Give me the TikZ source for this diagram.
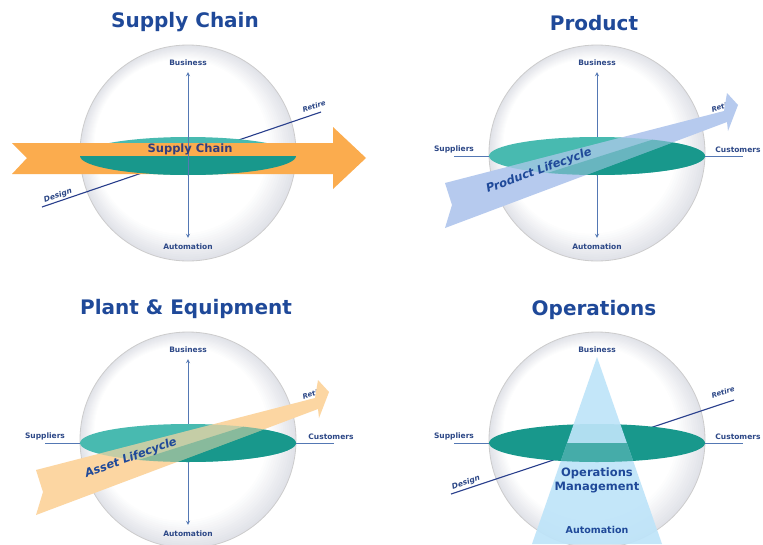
\documentclass[tikz,border=0pt]{standalone}
\usepackage{fontspec}
\setmainfont{DejaVu Sans}
\usetikzlibrary{positioning}

\definecolor{titleblue}{RGB}{31,73,153}
\definecolor{labelblue}{RGB}{45,72,135}
\definecolor{axisblue}{RGB}{84,120,180}
\definecolor{lineblue}{RGB}{40,62,140}
\definecolor{tealdark}{RGB}{24,152,140}
\definecolor{teallight}{RGB}{72,186,176}
\definecolor{chainorange}{RGB}{251,172,78}
\definecolor{assetpeach}{RGB}{252,214,162}
\definecolor{productblue}{RGB}{182,202,238}
\definecolor{opsblue}{RGB}{190,228,249}
\definecolor{arrowtext}{RGB}{50,62,125}
\definecolor{spheregrey}{RGB}{186,190,204}

\newcommand{\lifecyclearrow}{(-152,30) -- (127,-42) -- (130,-60) -- (141,-48) -- (131,-22) -- (130,-31) -- (-152,75) -- (-145,52) -- cycle}
\newcommand{\lowerhalf}{(-160,55) -- (160,-46.5) -- (160,60) -- (-160,60) -- cycle}
\newcommand{\disk}{(0,3) ellipse [x radius=108, y radius=19]}
\newcommand{\glassball}{%
    \foreach \k in {0,...,16} {
        \pgfmathsetmacro\rr{108-1.6*\k}
        \pgfmathsetmacro\cc{max(0,44-3.4*\k)}
        \fill[spheregrey!\cc!white] (-.5*\k,-.5*\k) circle (\rr);
    }
    \draw[sphererim] (0,0) circle (108);}

\begin{document}
\begin{tikzpicture}[x=1pt, y=-1pt,
        paneltitle/.style={font=\bfseries\fontsize{20}{24}\selectfont, text=titleblue},
        axislbl/.style={font=\bfseries\fontsize{7.5}{9}\selectfont, text=labelblue, inner sep=1pt},
        phaselbl/.style={font=\bfseries\itshape\fontsize{7.5}{9}\selectfont, text=labelblue, inner sep=1pt},
        arrowlbl/.style={font=\bfseries\fontsize{11.5}{14}\selectfont, text=arrowtext},
        updown/.style={draw=axisblue, line width=.8pt, <->, >=stealth, shorten >=5pt, shorten <=5pt},
        crossline/.style={draw=axisblue, line width=.8pt},
        lifeline/.style={draw=lineblue, line width=1.1pt},
        sphererim/.style={draw=black!20, line width=.8pt}]

    \useasboundingbox (0,0) rectangle (763,544);
    \fill[white] (0,0) rectangle (763,544);

    \node[paneltitle] (t1) at (185,22) {Supply Chain};
    \node[paneltitle] (t2) at (594,23) {Product};
    \node[paneltitle] (t3) at (186,309) {Plant \& Equipment};
    \node[paneltitle] (t4) at (594,310) {Operations};

    \begin{scope}[shift={(188,153)}]
        \glassball

        \coordinate (des1end) at (-146,54);
        \coordinate (ret1end) at (133,-41);
        \draw[lifeline] (des1end) -- (ret1end);
        \node[phaselbl, rotate=19] (des1) at (-130,43) {Design};
        \node[phaselbl, rotate=19, font=\bfseries\itshape\fontsize{7}{8}\selectfont] (ret1) at (126,-47) {Retire};

        \fill[teallight] \disk;
        \fill[chainorange] (-176,-10) -- (145,-10) -- (145,-26) -- (178,5) -- (145,36) -- (145,21) -- (-176,21) -- (-161,5) -- cycle;
        \begin{scope}
            \clip (-110,3) rectangle (110,25);
            \fill[tealdark] \disk;
        \end{scope}

        \node[axislbl] (bus1) at (0,-90) {Business};
        \node[axislbl] (aut1) at (0,94) {Automation};
        \draw[updown] (bus1) -- (aut1);

        \node[arrowlbl] (sc1) at (2,-4) {Supply Chain};
    \end{scope}

    \begin{scope}[shift={(597,153)}]
        \glassball

        \coordinate (sl2) at (-143,3);
        \coordinate (cl2) at (146,3);
        \draw[crossline] (sl2) -- (cl2);
        \node[axislbl, above=2pt of sl2] (sup2) {Suppliers};
        \node[axislbl, anchor=south] (cus2) at (141,1) {Customers};

        \node[axislbl] (bus2) at (0,-90) {Business};
        \node[axislbl] (aut2) at (0,94) {Automation};
        \draw[updown] (bus2) -- (aut2);
        \node[phaselbl, rotate=19, font=\bfseries\itshape\fontsize{7}{8}\selectfont] (ret2) at (126,-47) {Retire};

        \fill[teallight] \disk;
        \begin{scope}
            \clip \lowerhalf;
            \fill[tealdark] \disk;
        \end{scope}
        \fill[productblue] \lifecyclearrow;
        \begin{scope}
            \clip \lifecyclearrow;
            \fill[teallight, opacity=.3] \disk;
            \clip \lowerhalf;
            \fill[tealdark, opacity=.35] \disk;
        \end{scope}

        \node[arrowlbl, rotate=20, font=\bfseries\itshape\fontsize{11.5}{14}\selectfont, text=titleblue] (pl2) at (-58,18) {Product Lifecycle};
    \end{scope}

    \begin{scope}[shift={(188,440)}]
        \glassball

        \coordinate (sl3) at (-143,3);
        \coordinate (cl3) at (146,3);
        \draw[crossline] (sl3) -- (cl3);
        \node[axislbl, above=2pt of sl3] (sup3) {Suppliers};
        \node[axislbl, anchor=south] (cus3) at (143,1) {Customers};

        \node[axislbl] (bus3) at (0,-90) {Business};
        \node[axislbl] (aut3) at (0,94) {Automation};
        \draw[updown] (bus3) -- (aut3);
        \node[phaselbl, rotate=19, font=\bfseries\itshape\fontsize{7}{8}\selectfont] (ret3) at (126,-47) {Retire};

        \fill[teallight] \disk;
        \begin{scope}
            \clip \lowerhalf;
            \fill[tealdark] \disk;
        \end{scope}
        \fill[assetpeach] \lifecyclearrow;
        \begin{scope}
            \clip \lifecyclearrow;
            \fill[teallight, opacity=.3] \disk;
            \clip \lowerhalf;
            \fill[tealdark, opacity=.35] \disk;
        \end{scope}

        \node[arrowlbl, rotate=20, font=\bfseries\itshape\fontsize{11.5}{14}\selectfont, text=titleblue] (al3) at (-57,18) {Asset Lifecycle};
    \end{scope}

    \begin{scope}[shift={(597,440)}]
        \glassball

        \coordinate (sl4) at (-143,3);
        \coordinate (cl4) at (146,3);
        \draw[crossline] (sl4) -- (cl4);
        \node[axislbl, above=2pt of sl4] (sup4) {Suppliers};
        \node[axislbl, anchor=south] (cus4) at (141,1) {Customers};

        \coordinate (des4end) at (-146,54);
        \coordinate (ret4end) at (137,-40);
        \draw[lifeline] (des4end) -- (ret4end);
        \node[phaselbl, rotate=19] (des4) at (-131,43) {Design};
        \node[phaselbl, rotate=19, font=\bfseries\itshape\fontsize{7}{8}\selectfont] (ret4) at (126,-48) {Retire};

        \fill[tealdark] \disk;
        \fill[opsblue, opacity=.92] (0,-83) -- (65,104) -- (-65,104) -- cycle;
        \begin{scope}
            \clip (0,-83) -- (65,104) -- (-65,104) -- cycle;
            \clip (-110,3) rectangle (110,25);
            \fill[tealdark, opacity=.7] \disk;
        \end{scope}

        \node[axislbl] (bus4) at (0,-90) {Business};
        \node[arrowlbl, align=center, text=titleblue] (om4) at (0,40) {Operations\\Management};
        \node[font=\bfseries\fontsize{9.5}{11}\selectfont, text=titleblue] (aut4) at (0,90) {Automation};
    \end{scope}

\end{tikzpicture}
\end{document}
